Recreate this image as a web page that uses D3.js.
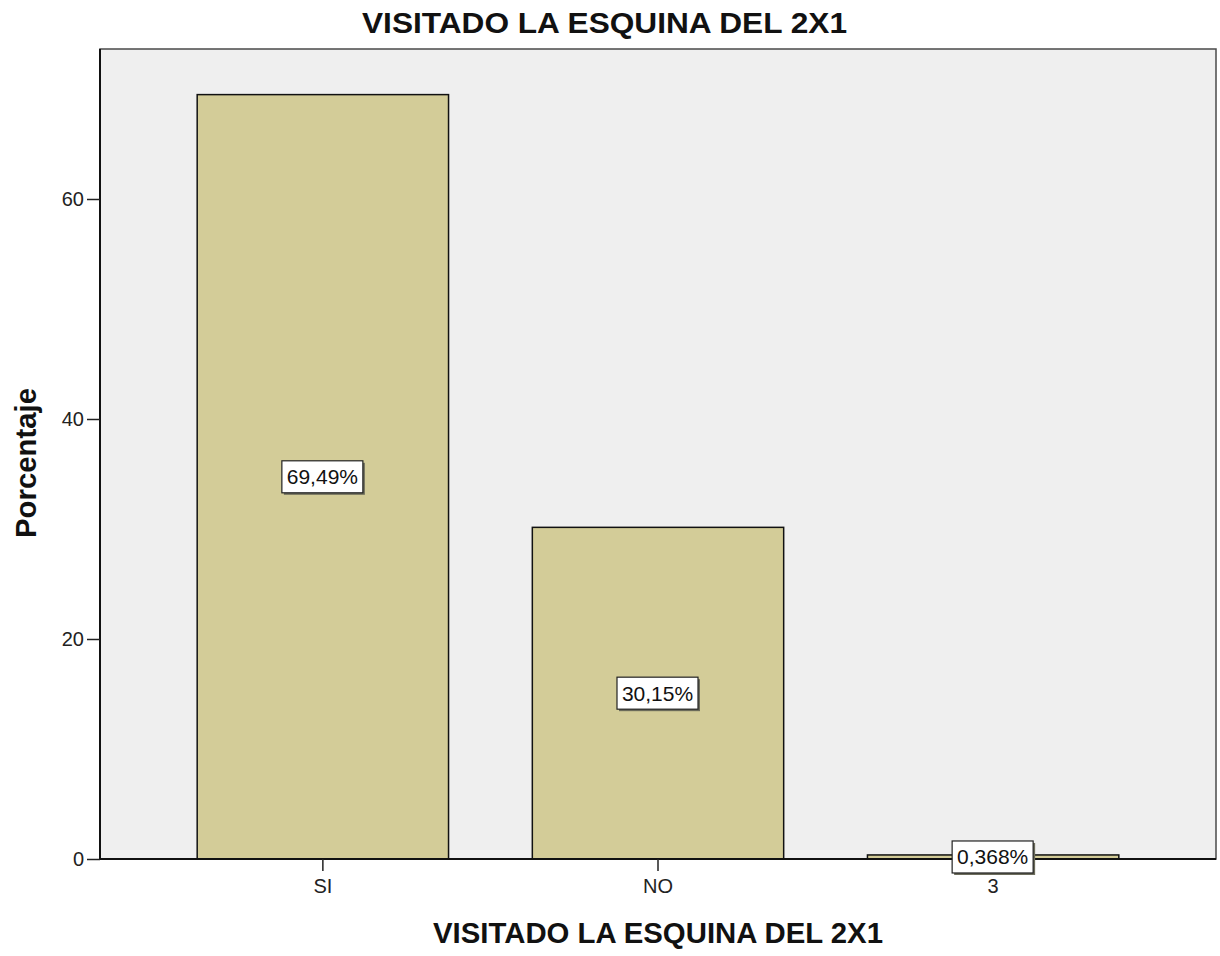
<!DOCTYPE html>
<html>
<head>
<meta charset="utf-8">
<script src="https://cdn.jsdelivr.net/npm/d3@7"></script>
<style>
  body { margin: 0; background: #ffffff; }
  svg { display: block; font-family: Arial, "Liberation Sans", sans-serif; }
</style>
</head>
<body>
<svg id="chart" width="1220" height="956"></svg>
<script>
// Category labels and their percentages
const categories = ["SI", "NO", "3"];
const percentages = [69.49, 30.15, 0.368];
const valueLabels = ["69,49%", "30,15%", "0,368%"];
const yTicks = [0, 20, 40, 60];
const chartTitle = "VISITADO LA ESQUINA DEL 2X1";
const xTitle = "VISITADO LA ESQUINA DEL 2X1";
const yTitle = "Porcentaje";

const svg = d3.select("#chart");
const plot = { left: 100, top: 49, right: 1216, bottom: 859 };

const x = d3.scaleBand()
  .domain(categories)
  .range([plot.left, plot.right])
  .paddingInner(0.25)
  .paddingOuter(0.29);

const y = d3.scaleLinear()
  .domain([0, 810 / 11])
  .range([plot.bottom, plot.top]);

// Plot background and frame
svg.append("rect")
  .attr("x", plot.left).attr("y", plot.top)
  .attr("width", plot.right - plot.left).attr("height", plot.bottom - plot.top)
  .attr("fill", "#efefef")
  .attr("stroke", "#4a4a4a").attr("stroke-width", 1.5);

// Bars
svg.append("g").selectAll("rect")
  .data(categories)
  .join("rect")
  .attr("x", d => x(d))
  .attr("width", x.bandwidth())
  .attr("y", (d, i) => y(percentages[i]))
  .attr("height", (d, i) => y(0) - y(percentages[i]))
  .attr("fill", "#d3cc98")
  .attr("stroke", "#111")
  .attr("stroke-width", 1.5);

// Axes
const yAxis = svg.append("g")
  .attr("transform", `translate(${plot.left},0)`)
  .call(d3.axisLeft(y).tickValues(yTicks).tickSize(13).tickPadding(3).tickFormat(d3.format("d")));
const xAxis = svg.append("g")
  .attr("transform", `translate(0,${plot.bottom})`)
  .call(d3.axisBottom(x).tickSize(12).tickPadding(8).tickSizeOuter(0));

[yAxis, xAxis].forEach(g => {
  g.select(".domain").attr("stroke", "#111").attr("stroke-width", 2);
  g.selectAll(".tick line").attr("stroke", "#222").attr("stroke-width", 1.5);
  g.selectAll(".tick text").attr("fill", "#222").style("font-size", "20px")
    .style("font-family", "Arial, 'Liberation Sans', sans-serif");
});
xAxis.select(".domain").attr("d", `M${plot.left},0H${plot.right}`);
yAxis.select(".domain").attr("d", `M0,${plot.bottom}V${plot.top}`);

// Value labels in boxes at half bar height
const labels = svg.append("g").selectAll("g")
  .data(categories)
  .join("g")
  .attr("transform", (d, i) => `translate(${x(d) + x.bandwidth() / 2},${y(percentages[i] / 2)})`);
labels.append("rect")
  .attr("x", -39).attr("y", -14).attr("width", 81).attr("height", 32)
  .attr("fill", "#6b6b5a");
labels.append("rect")
  .attr("x", -41).attr("y", -16).attr("width", 81).attr("height", 32)
  .attr("fill", "#ffffff").attr("stroke", "#222").attr("stroke-width", 1.2);
labels.append("text")
  .attr("x", -0.5).attr("y", 0)
  .attr("text-anchor", "middle").attr("dominant-baseline", "central")
  .style("font-size", "21px").attr("fill", "#111")
  .text((d, i) => valueLabels[i]);

// Titles
svg.append("text")
  .attr("x", 604.5).attr("y", 33)
  .attr("text-anchor", "middle")
  .attr("textLength", 485).attr("lengthAdjust", "spacingAndGlyphs")
  .style("font-size", "29px").style("font-weight", "bold").attr("fill", "#111")
  .text(chartTitle);
svg.append("text")
  .attr("x", 658).attr("y", 943)
  .attr("text-anchor", "middle")
  .attr("textLength", 450).attr("lengthAdjust", "spacingAndGlyphs")
  .style("font-size", "29px").style("font-weight", "bold").attr("fill", "#111")
  .text(xTitle);
svg.append("text")
  .attr("transform", `translate(36,463) rotate(-90)`)
  .attr("text-anchor", "middle")
  .attr("textLength", 150).attr("lengthAdjust", "spacingAndGlyphs")
  .style("font-size", "29px").style("font-weight", "bold").attr("fill", "#111")
  .text(yTitle);
</script>
</body>
</html>
